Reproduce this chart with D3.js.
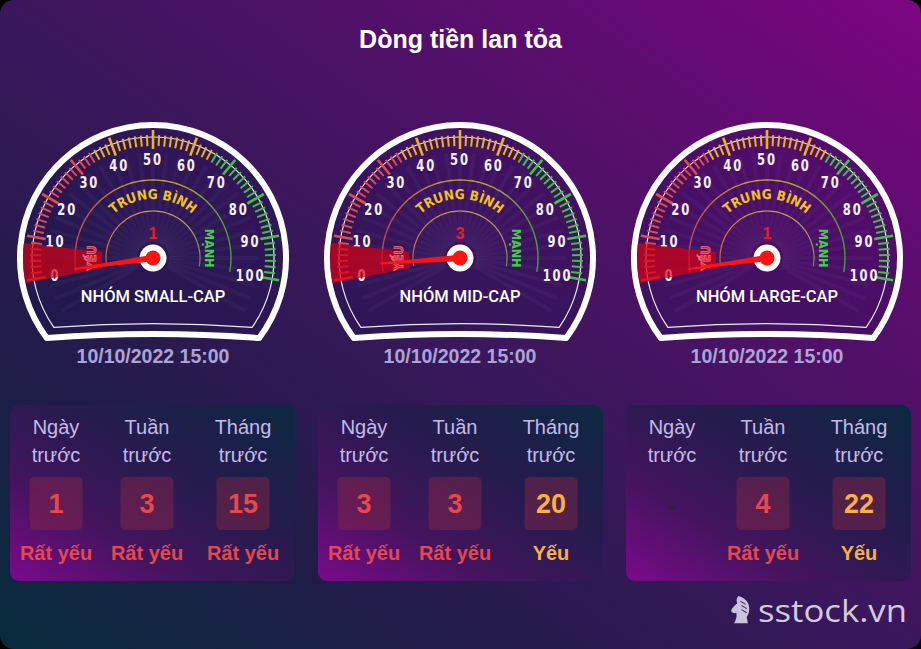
<!DOCTYPE html>
<html><head><meta charset="utf-8">
<script src="https://cdn.jsdelivr.net/npm/d3@7"></script>
<style>html,body{margin:0;padding:0;background:#000;} svg{display:block}</style>
</head><body><svg id="c" width="921" height="649"></svg>
<script>
// ---------- data ----------
const chartTitle = "Dòng tiền lan tỏa";
const groupNames = ["NHÓM SMALL-CAP", "NHÓM MID-CAP", "NHÓM LARGE-CAP"];
const gaugeValues = [1, 3, 1];
const timestamps = ["10/10/2022 15:00", "10/10/2022 15:00", "10/10/2022 15:00"];
const scaleTicks = [0, 10, 20, 30, 40, 50, 60, 70, 80, 90, 100];
const zoneLabels = ["YẾU", "TRUNG BÌNH", "MẠNH"];
const periodTop = ["Ngày", "Tuần", "Tháng"];
const periodBottom = ["trước", "trước", "trước"];
const dayValues = [1, 3, null];
const weekValues = [3, 3, 4];
const monthValues = [15, 20, 22];
const dayLevels = ["Rất yếu", "Rất yếu", null];
const weekLevels = ["Rất yếu", "Rất yếu", "Rất yếu"];
const monthLevels = ["Rất yếu", "Yếu", "Yếu"];
const brand = "sstock.vn";

// ---------- setup ----------
const W = 921, H = 649;
const svg = d3.select("#c");
const defs = svg.append("defs");
const rad = d => d * Math.PI / 180;

const bg = defs.append("linearGradient").attr("id", "bg")
  .attr("x1", 0).attr("y1", 1).attr("x2", 1).attr("y2", 0);
[[0, "#062c3c"], [0.22, "#1e1c47"], [0.5, "#3b175c"], [0.78, "#5c0d6f"], [1, "#7d0582"]]
  .forEach(([o, c]) => bg.append("stop").attr("offset", o).attr("stop-color", c));

const pg = defs.append("linearGradient").attr("id", "pg")
  .attr("x1", 0).attr("y1", 1).attr("x2", 1).attr("y2", 0);
[[0, "#7a0a8a"], [0.3, "#44145e"], [0.55, "#2a1a50"], [0.8, "#1a2048"], [1, "#0b2a40"]]
  .forEach(([o, c]) => pg.append("stop").attr("offset", o).attr("stop-color", c));

svg.append("rect").attr("width", W).attr("height", H).attr("rx", 14).attr("fill", "url(#bg)");

svg.append("text").attr("x", W / 2).attr("y", 48).attr("text-anchor", "middle")
  .attr("font-family", "Liberation Sans, Arial, sans-serif").attr("font-weight", "bold")
  .attr("font-size", 25).attr("fill", "#fff").text(chartTitle);

// ---------- gauges ----------
const angle = d3.scaleLinear().domain([0, 100]).range([-100, 100]);
const pt = (r, a) => [r * Math.sin(rad(a)), -r * Math.cos(rad(a))];
const levelColor = { "Rất yếu": "#e5484d", "Yếu": "#f9b13f" };
const tickColor = v => v < 35 ? "#e04c4c" : (v < 65 ? "#e8b422" : "#3fc43f");
const gaugeX = d3.scalePoint().domain(d3.range(groupNames.length)).range([153, 767]);
const gy = 258;

function framePath(R, endA, ctrlDy) {
  const p = d3.path();
  const L = pt(R, -endA);
  p.moveTo(L[0], L[1]);
  p.arc(0, 0, R, rad(-endA - 90), rad(endA - 90), false);
  p.quadraticCurveTo(0, ctrlDy, L[0], L[1]);
  p.closePath();
  return p.toString();
}

groupNames.forEach((name, i) => {
  const g = svg.append("g").attr("transform", `translate(${gaugeX(i)},${gy})`);
  // interior
  g.append("path").attr("d", framePath(133, 127, 72)).attr("fill", "rgba(25,20,80,0.22)");
  // faint rays
  d3.range(-120, 121, 7.5).forEach(a => {
    const p1 = pt(16, a), p2 = pt(106, a);
    g.append("line").attr("x1", p1[0]).attr("y1", p1[1]).attr("x2", p2[0]).attr("y2", p2[1])
      .attr("stroke", "rgba(255,255,255,0.03)").attr("stroke-width", 4);
  });
  // frame
  g.append("path").attr("d", framePath(133, 127, 72)).attr("fill", "none")
    .attr("stroke", "#fff").attr("stroke-width", 6).attr("stroke-linejoin", "round");
  g.append("path").attr("d", framePath(121, 125, 62)).attr("fill", "none")
    .attr("stroke", "#fff").attr("stroke-width", 1.2).attr("stroke-opacity", 0.9);

  // ticks
  d3.range(0, 71).forEach(k => {
    const v = k * 10 / 7, major = k % 7 === 0;
    const a = angle(v);
    const p1 = pt(major ? 109 : 112, a), p2 = pt(major ? 128 : 123, a);
    g.append("line").attr("x1", p1[0]).attr("y1", p1[1]).attr("x2", p2[0]).attr("y2", p2[1])
      .attr("stroke", tickColor(v)).attr("stroke-width", major ? 2.6 : 2);
  });
  // labels
  scaleTicks.forEach(v => {
    const p = pt(99, angle(v));
    g.append("text").attr("transform", `translate(${p[0]},${p[1]}) scale(0.92,1.15)`)
      .attr("text-anchor", "middle").attr("dominant-baseline", "central")
      .attr("font-family", "DejaVu Sans Condensed, DejaVu Sans, sans-serif").attr("font-weight", "bold")
      .attr("font-size", 14).attr("letter-spacing", 2).attr("fill", "#f4f0f8").text(v);
  });

  // inner arcs with colour gradient along the arc
  const arcA = d3.interpolateRgbBasis(["#c24848", "#c24848", "#c9a232", "#c9a232", "#3ea03e", "#3ea03e"]);
  const arcB = d3.interpolateRgbBasis(["#c85a36", "#d08a3a", "#d2a546", "#b0a060", "#6c8a5c"]);
  const segs = 60;
  d3.range(segs).forEach(s => {
    const a0 = -100 + 200 * s / segs, a1 = -100 + 200 * (s + 1) / segs;
    g.append("path").attr("d", d3.arc()({ innerRadius: 77.3, outerRadius: 78.7, startAngle: rad(a0), endAngle: rad(a1 + 0.3) }))
      .attr("fill", arcA(s / segs));
    g.append("path").attr("d", d3.arc()({ innerRadius: 46.4, outerRadius: 47.6, startAngle: rad(a0), endAngle: rad(a1 + 0.3) }))
      .attr("fill", arcB(s / segs));
  });

  // zone labels
  const tp = d3.path();
  const s0 = pt(59, -80);
  tp.moveTo(s0[0], s0[1]);
  tp.arc(0, 0, 59, rad(-170), rad(-10), false);
  defs.append("path").attr("id", "tp" + i).attr("d", tp.toString());
  g.append("text").attr("font-family", "DejaVu Sans Condensed, DejaVu Sans, sans-serif")
    .attr("font-weight", "bold").attr("font-size", 13.5).attr("fill", "#f0c21e")
    .append("textPath").attr("href", "#tp" + i).attr("startOffset", "50%")
    .attr("text-anchor", "middle").text(zoneLabels[1]);
  const mp = pt(57, 80);
  g.append("text").attr("transform", `translate(${mp[0]},${mp[1]}) rotate(90)`)
    .attr("text-anchor", "middle").attr("dominant-baseline", "central")
    .attr("font-family", "DejaVu Sans Condensed, DejaVu Sans, sans-serif")
    .attr("font-weight", "bold").attr("font-size", 12.5).attr("fill", "#3fd046").text(zoneLabels[2]);

  // weak zone band
  g.append("path").attr("d", d3.arc()({ innerRadius: 51, outerRadius: 130, startAngle: rad(angle(-0.6)), endAngle: rad(angle(8.3)) }))
    .attr("fill", "rgba(215,0,18,0.7)");
  const yp = pt(62, -90);
  g.append("text").attr("transform", `translate(${yp[0]},${yp[1]}) rotate(-90)`)
    .attr("text-anchor", "middle").attr("dominant-baseline", "central")
    .attr("font-family", "DejaVu Sans Condensed, DejaVu Sans, sans-serif")
    .attr("font-weight", "bold").attr("font-size", 12.5).attr("fill", "#c02838")
    .attr("stroke", "#ff7080").attr("stroke-width", 0.7).text(zoneLabels[0]);

  // value text
  g.append("text").attr("x", 0).attr("y", -25).attr("text-anchor", "middle").attr("dominant-baseline", "central")
    .attr("font-family", "Liberation Sans, Arial, sans-serif").attr("font-weight", "bold")
    .attr("font-size", 16).attr("fill", "#ee1c1c").text(gaugeValues[i]);

  // hub + needle
  g.append("circle").attr("r", 13.5).attr("fill", "#fff");
  g.append("path").attr("d", "M-3.2,0 L-1,-80 L1,-80 L3.2,0 Z")
    .attr("transform", `rotate(${angle(gaugeValues[i])})`).attr("fill", "#ff1212");
  g.append("circle").attr("r", 7.5).attr("fill", "#ff1212");

  // group name
  g.append("text").attr("x", 0).attr("y", 38).attr("text-anchor", "middle").attr("dominant-baseline", "central")
    .attr("font-family", "Roboto, Liberation Sans, sans-serif").attr("font-weight", 500)
    .attr("font-size", 16.5).attr("fill", "#fff").text(name);

  // timestamp
  svg.append("text").attr("x", gaugeX(i)).attr("y", 356).attr("text-anchor", "middle").attr("dominant-baseline", "central")
    .attr("font-family", "Liberation Sans, Arial, sans-serif").attr("font-weight", "bold")
    .attr("font-size", 19.5).attr("fill", "#aca4d8").text(timestamps[i]);
});

// ---------- panels ----------
const panelX = d3.scalePoint().domain(d3.range(groupNames.length)).range([10, 626]);
const colOffsets = [46, 137, 233];
const panelW = 285, panelY = 405, panelH = 176;
const tableVals = [dayValues, weekValues, monthValues];
const tableLevels = [dayLevels, weekLevels, monthLevels];

groupNames.forEach((n, i) => {
  const g = svg.append("g").attr("transform", `translate(${panelX(i)},${panelY})`);
  g.append("rect").attr("width", panelW).attr("height", panelH).attr("rx", 9).attr("fill", "url(#pg)");
  periodTop.forEach((p, j) => {
    const x = colOffsets[j];
    g.append("text").attr("x", x).attr("y", 22).attr("text-anchor", "middle").attr("dominant-baseline", "central")
      .attr("font-family", "Liberation Sans, Arial, sans-serif").attr("font-size", 20)
      .attr("fill", "#c3bbe8").text(p);
    g.append("text").attr("x", x).attr("y", 50).attr("text-anchor", "middle").attr("dominant-baseline", "central")
      .attr("font-family", "Liberation Sans, Arial, sans-serif").attr("font-size", 20)
      .attr("fill", "#c3bbe8").text(periodBottom[j]);
    const v = tableVals[j][i], lv = tableLevels[j][i];
    if (v === null) {
      g.append("text").attr("x", x).attr("y", 100).attr("text-anchor", "middle").attr("dominant-baseline", "central")
        .attr("font-family", "Liberation Sans, Arial, sans-serif").attr("font-weight", "bold")
        .attr("font-size", 22).attr("fill", "#2a2436").text("-");
      return;
    }
    g.append("rect").attr("x", x - 26.5).attr("y", 72).attr("width", 53).attr("height", 53).attr("rx", 5)
      .attr("fill", "rgba(140,40,70,0.45)");
    g.append("text").attr("x", x).attr("y", 99).attr("text-anchor", "middle").attr("dominant-baseline", "central")
      .attr("font-family", "Liberation Sans, Arial, sans-serif").attr("font-weight", "bold")
      .attr("font-size", 27).attr("fill", levelColor[lv]).text(v);
    g.append("text").attr("x", x).attr("y", 148).attr("text-anchor", "middle").attr("dominant-baseline", "central")
      .attr("font-family", "Liberation Sans, Arial, sans-serif").attr("font-weight", "bold")
      .attr("font-size", 20).attr("fill", levelColor[lv]).text(lv);
  });
});

// ---------- brand ----------
const logo = svg.append("g").attr("transform", "translate(731,596) scale(1.05)");
logo.append("path").attr("d", "M7,0 C11,1 16,4 17,9 C18,13 17,17 15,20 L16,26 L3,26 C5,22 6,19 5,16 C3,17 1,16 0,14 C1,11 4,9 6,7 C5,5 5,2 7,0 Z")
  .attr("fill", "#cbc3db");
[[9, 5, 14, 8], [10, 9, 15, 12], [10, 13, 15, 16]].forEach(([a, b, c, d]) =>
  logo.append("line").attr("x1", a).attr("y1", b).attr("x2", c).attr("y2", d)
    .attr("stroke", "#4a2a66").attr("stroke-width", 1));
svg.append("text").attr("x", 758).attr("y", 622)
  .attr("font-family", "Open Sans, DejaVu Sans, sans-serif").attr("font-size", 31)
  .attr("textLength", 149).attr("lengthAdjust", "spacingAndGlyphs")
  .attr("fill", "#d2cadc").text(brand);
</script></body></html>
